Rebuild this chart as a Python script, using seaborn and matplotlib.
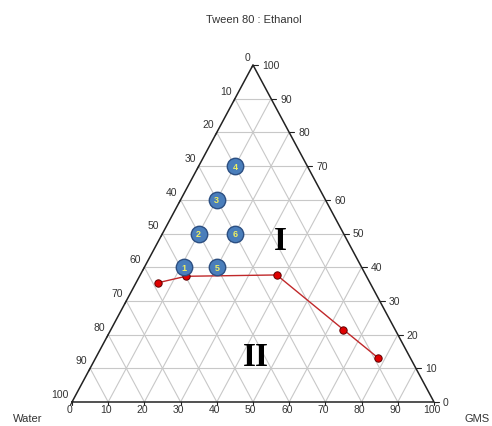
import numpy as np
import pandas as pd
import matplotlib
matplotlib.use("Agg")
import matplotlib.pyplot as plt
import seaborn as sns

# Ternary composition (%): Tween 80 : Ethanol (apex), GMS (right), Water (left)
formulation_ids = ["1", "2", "3", "4", "5", "6"]
form_tween = [40, 50, 60, 70, 40, 50]
form_gms = [11, 10, 10, 10, 20, 20]

boundary_tween = [35.4, 37.3, 37.7, 21.5, 13.1]
boundary_gms = [6.1, 12.8, 37.7, 64.2, 78.0]

tick_values = [0, 10, 20, 30, 40, 50, 60, 70, 80, 90, 100]
region_labels = ["I", "II"]
region_tween = [48, 13.5]
region_gms = [33.5, 44]

# Vertical stretch of the triangle relative to its base
YS = 337.0 / 362.0


def to_xy(tween, gms):
    t = np.asarray(tween, dtype=float)
    g = np.asarray(gms, dtype=float)
    return g + t / 2.0, t * YS


sns.set_theme(style="white")
plt.rcParams["font.family"] = ["Liberation Sans", "DejaVu Sans"]

fig = plt.figure(figsize=(4.92, 4.27), dpi=100)
ax = fig.add_axes([0, 0, 1, 1])
ax.set_xlim(-72 / 3.62, (492 - 72) / 3.62)
ax.set_ylim((403 - 427) / 3.62, 403 / 3.62)
ax.set_aspect("auto")
ax.axis("off")

grid_kw = dict(color="#c8c8c8", lw=0.8, zorder=1)
for k in range(10, 100, 10):
    # constant Tween 80 : Ethanol
    x, y = to_xy([k, k], [0, 100 - k])
    ax.plot(x, y, **grid_kw)
    # constant GMS
    x, y = to_xy([0, 100 - k], [k, k])
    ax.plot(x, y, **grid_kw)
    # constant Water
    x, y = to_xy([0, 100 - k], [100 - k, 0])
    ax.plot(x, y, **grid_kw)

# Triangle outline
x, y = to_xy([0, 0, 100, 0], [0, 100, 0, 0])
ax.plot(x, y, color="#222222", lw=1.1, zorder=2)

tick_fs = 7.5
txt_col = "#333333"
px = 1 / 3.62
for v in tick_values:
    # bottom axis (GMS)
    bx, by = to_xy(0, v)
    ax.plot([bx, bx], [by, by - 3 * px], color="#222222", lw=0.8)
    ax.text(bx - 0.6, by - 7 * px, str(v), ha="center", va="center",
            fontsize=tick_fs, color=txt_col)
    # right axis (Tween 80 : Ethanol)
    rx, ry = to_xy(v, 100 - v)
    ax.plot([rx, rx + 5 * px], [ry, ry], color="#222222", lw=0.8)
    ax.text(rx + 9 * px, ry, str(v), ha="left", va="center",
            fontsize=tick_fs, color=txt_col)
    # left axis (Water)
    lx, ly = to_xy(100 - v, 0)
    ax.plot([lx, lx - 1.5 * px], [ly, ly - 3 * px], color="#222222", lw=0.8)
    ax.text(lx - 3 * px, ly + 8 * px, str(v), ha="right", va="center",
            fontsize=tick_fs, color=txt_col)

# Phase boundary
bx, by = to_xy(boundary_tween, boundary_gms)
boundary = pd.DataFrame({"x": bx, "y": by})
sns.lineplot(data=boundary, x="x", y="y", sort=False, color="#c0282a",
             lw=1.0, ax=ax, zorder=3)
sns.scatterplot(data=boundary, x="x", y="y", s=28, color="#e00000",
                edgecolor="#600000", linewidth=0.7, ax=ax, zorder=4)

# Formulations
fx, fy = to_xy(form_tween, form_gms)
forms = pd.DataFrame({"x": fx, "y": fy, "id": formulation_ids})
sns.scatterplot(data=forms, x="x", y="y", s=140, color="#4a7ebb",
                edgecolor="#2c4f82", linewidth=1.0, ax=ax, zorder=5)
for _, r in forms.iterrows():
    ax.text(r.x, r.y, r.id, ha="center", va="center", fontsize=6.5,
            fontweight="bold", color="#f0f060", zorder=6)

# Phase regions
rx, ry = to_xy(region_tween, region_gms)
for lab, x0, y0 in zip(region_labels, rx, ry):
    ax.text(x0, y0, lab, ha="center", va="center", fontsize=24,
            fontweight="bold", family=["Liberation Serif", "DejaVu Serif"],
            color="black", zorder=6)

ax.text((254 - 72) / 3.62, (403 - 20) / 3.62, "Tween 80 : Ethanol",
        ha="center", va="center", fontsize=8, color=txt_col)
ax.text((28 - 72) / 3.62, (403 - 419) / 3.62, "Water",
        ha="center", va="center", fontsize=8, color=txt_col)
ax.text((477 - 72) / 3.62, (403 - 419) / 3.62, "GMS",
        ha="center", va="center", fontsize=8, color=txt_col)

fig.savefig("out.png", dpi=100)
